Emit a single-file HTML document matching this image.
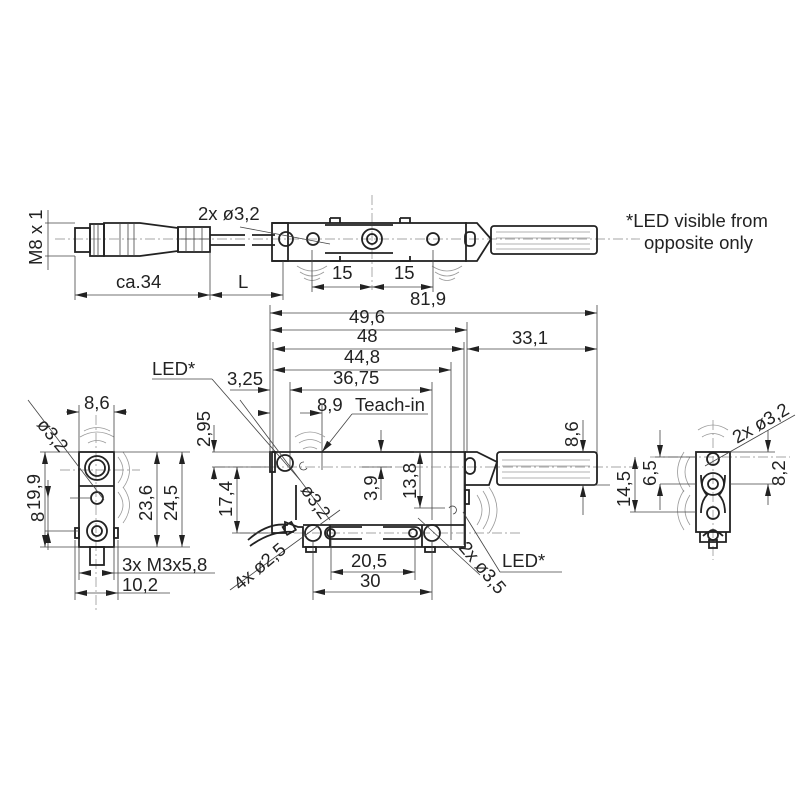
<!DOCTYPE html>
<html><head><meta charset="utf-8"><style>
html,body{margin:0;padding:0;background:#fff}
svg{display:block}
text{font-family:"Liberation Sans",Arial,sans-serif;font-size:18.5px;fill:#222}
.o{stroke:#222;stroke-width:1.8;fill:none}
.t{stroke:#444;stroke-width:0.8;fill:none}
.c{stroke:#888;stroke-width:0.7;fill:none;stroke-dasharray:10 3 2 3}
.w{stroke:#999;stroke-width:0.8;fill:none}
</style></head><body>
<svg width="800" height="800" viewBox="0 0 800 800" xmlns="http://www.w3.org/2000/svg">
<defs>
<marker id="a" viewBox="0 0 12 6" refX="12" refY="3" markerWidth="12" markerHeight="6" orient="auto-start-reverse" markerUnits="userSpaceOnUse"><path d="M0,0L12,3L0,6z" fill="#222"/></marker>
</defs>

<!-- ===== TOP VIEW ===== -->
<line class="c" x1="55" y1="239" x2="640" y2="239"/>
<line class="c" x1="372" y1="195" x2="372" y2="290"/>
<rect class="o" x="75" y="228" width="15" height="24"/>
<rect class="o" x="90" y="224" width="14" height="32"/>
<line class="t" x1="94" y1="224" x2="94" y2="256"/><line class="t" x1="98" y1="224" x2="98" y2="256"/>
<path class="o" d="M104,223 H140 L178,228 V251 L140,256 H104 Z"/>
<line class="t" x1="120" y1="223" x2="120" y2="256"/><line class="t" x1="128" y1="223" x2="128" y2="256"/><line class="t" x1="134" y1="223" x2="134" y2="256"/>
<rect class="o" x="178" y="227" width="32" height="25"/>
<line class="t" x1="186" y1="227" x2="186" y2="252"/><line class="t" x1="194" y1="227" x2="194" y2="252"/><line class="t" x1="202" y1="227" x2="202" y2="252"/>
<line class="t" x1="178" y1="239" x2="210" y2="239"/>
<path class="o" d="M210,235 H245 M252,235 H275 M210,245 H245 M252,245 H275"/>
<rect class="o" x="272" y="223" width="194" height="38"/>
<path class="o" d="M272,223 h16 v38 h-16"/>
<circle class="o" cx="286" cy="239" r="7"/>
<circle class="o" cx="313" cy="239" r="6"/>
<circle class="o" cx="372" cy="239" r="10"/><circle class="o" cx="372" cy="239" r="5"/>
<circle class="o" cx="433" cy="239" r="6"/>
<path class="o" d="M325,225 h68 M325,253 h68 M330,218 h10 v5 M400,218 h10 v5 M330,261 h10 v-5 M400,261 h10 v-5 M330,218 v5 M400,218 v5"/>
<path class="o" d="M465,223 h12 l14,16 l-14,22 h-12"/>
<rect class="o" x="465" y="232" width="10" height="14" rx="4"/>
<rect class="o" x="491" y="226" width="106" height="28" rx="3"/>
<g class="w"><line x1="496" y1="232" x2="590" y2="232"/><line x1="496" y1="238" x2="590" y2="238"/><line x1="496" y1="244" x2="590" y2="244"/><line x1="496" y1="249" x2="590" y2="249"/></g>
<line class="t" x1="240" y1="227" x2="330" y2="244"/>
<text x="198" y="220">2x ø3,2</text>
<g class="w"><path d="M297,266 q15,10 30,0 M300,272 q12,8 24,0 M304,278 q8,5 16,0"/><path d="M432,266 q15,10 30,0 M435,272 q12,8 24,0 M439,278 q8,5 16,0"/></g>
<line class="t" x1="45" y1="223" x2="75" y2="223"/><line class="t" x1="45" y1="256" x2="75" y2="256"/>
<line class="t" x1="48" y1="210" x2="48" y2="270" />
<text transform="translate(42,265) rotate(-90)">M8 x 1</text>
<g class="t"><line x1="75" y1="256" x2="75" y2="300"/><line x1="210" y1="252" x2="210" y2="300"/><line x1="283" y1="261" x2="283" y2="300"/>
<line x1="312" y1="250" x2="312" y2="292"/><line x1="433" y1="250" x2="433" y2="292"/></g>
<line class="t" x1="75" y1="295" x2="210" y2="295" marker-start="url(#a)" marker-end="url(#a)"/>
<line class="t" x1="210" y1="295" x2="283" y2="295" marker-start="url(#a)" marker-end="url(#a)"/>
<text x="116" y="288">ca.34</text><text x="238" y="288">L</text>
<line class="t" x1="312" y1="287" x2="372" y2="287" marker-start="url(#a)" marker-end="url(#a)"/>
<line class="t" x1="372" y1="287" x2="433" y2="287" marker-start="url(#a)" marker-end="url(#a)"/>
<text x="332" y="279">15</text><text x="394" y="279">15</text>
<text x="626" y="227">*LED visible from</text><text x="644" y="249">opposite only</text>

<!-- ===== dimension stack ===== -->
<g class="t">
<line x1="270" y1="305" x2="270" y2="455"/><line x1="597" y1="305" x2="597" y2="465"/>
<line x1="467" y1="322" x2="467" y2="452"/><line x1="464" y1="342" x2="464" y2="545"/>
<line x1="451" y1="362" x2="451" y2="540"/><line x1="432" y1="382" x2="432" y2="520"/>
<line x1="273" y1="342" x2="273" y2="452"/><line x1="290" y1="382" x2="290" y2="470"/>
<line x1="322" y1="405" x2="322" y2="470"/>
</g>
<line class="t" x1="270" y1="313" x2="597" y2="313" marker-start="url(#a)" marker-end="url(#a)"/>
<text x="410" y="305">81,9</text>
<line class="t" x1="270" y1="330" x2="467" y2="330" marker-start="url(#a)" marker-end="url(#a)"/>
<text x="349" y="323">49,6</text>
<line class="t" x1="273" y1="349" x2="464" y2="349" marker-start="url(#a)" marker-end="url(#a)"/>
<line class="t" x1="467" y1="349" x2="597" y2="349" marker-start="url(#a)" marker-end="url(#a)"/>
<text x="357" y="342">48</text><text x="512" y="344">33,1</text>
<line class="t" x1="273" y1="370" x2="451" y2="370" marker-start="url(#a)" marker-end="url(#a)"/>
<text x="344" y="363">44,8</text>
<line class="t" x1="290" y1="390" x2="432" y2="390" marker-start="url(#a)" marker-end="url(#a)"/>
<line class="t" x1="230" y1="390" x2="270" y2="390" marker-end="url(#a)"/>
<text x="333" y="384">36,75</text><text x="227" y="385">3,25</text>
<line class="t" x1="258" y1="413" x2="270" y2="413" marker-end="url(#a)"/>
<line class="t" x1="300" y1="413" x2="322" y2="413" marker-end="url(#a)"/>
<text x="317" y="411">8,9</text><text x="355" y="411">Teach-in</text>
<line class="t" x1="352" y1="414" x2="428" y2="414"/>
<line class="t" x1="352" y1="414" x2="322" y2="452" marker-end="url(#a)"/>
<text x="152" y="375">LED*</text>
<line class="t" x1="152" y1="379" x2="212" y2="379"/>
<line class="t" x1="212" y1="379" x2="300" y2="480"/>

<!-- ===== SIDE VIEW ===== -->
<line class="c" x1="215" y1="467" x2="640" y2="467"/>
<line class="c" x1="240" y1="533" x2="520" y2="533"/>
<path class="o" d="M272,452 H465 V547 H303 V527 H298 L285,522 V533 H272 V452"/>
<rect class="o" x="270" y="452" width="5" height="20"/>
<path class="o" d="M303,525 H465"/>
<line class="o" x1="330" y1="525" x2="330" y2="547"/>
<line class="o" x1="422" y1="525" x2="422" y2="547"/>
<circle class="o" cx="285" cy="463" r="8"/>
<path class="t" d="M304,462 a4,4 0 1 0 3,6"/>
<line class="o" x1="296" y1="485" x2="296" y2="520"/>
<circle class="o" cx="313" cy="533" r="8"/>
<circle class="o" cx="432" cy="533" r="8"/>
<path class="o" d="M331,527 a6,6 0 0 0 0,12 H362 M331,527 H362"/>
<circle class="o" cx="331" cy="533" r="4"/>
<path class="o" d="M415,527 a6,6 0 0 1 0,12 H383 M415,527 H383"/>
<circle class="o" cx="413" cy="533" r="4"/>
<rect class="o" x="306" y="547" width="10" height="5"/><rect class="o" x="425" y="547" width="10" height="5"/>
<path class="o" d="M248,540 q20,-18 40,-15 M250,546 q22,-16 44,-14"/>
<rect class="o" x="284" y="524" width="10" height="9" transform="rotate(-30 289 528)"/>
<path class="o" d="M465,452 h12 l20,10 l-8,23 h-24"/>
<rect class="o" x="465" y="458" width="10" height="16" rx="5"/>
<rect class="o" x="497" y="452" width="100" height="33" rx="3"/>
<g class="w"><line x1="502" y1="460" x2="590" y2="460"/><line x1="502" y1="466" x2="590" y2="466"/><line x1="502" y1="472" x2="590" y2="472"/><line x1="502" y1="478" x2="590" y2="478"/></g>
<rect class="o" x="465" y="490" width="4" height="14"/>
<path class="t" d="M449,508 a4,4 0 1 1 4,6"/>
<g class="w"><path d="M295,437 q15,-10 30,0 M299,443 q11,-7 22,0 M303,449 q7,-4 14,0"/><path d="M477,495 q10,15 0,30 M483,491 q13,19 0,38 M489,487 q16,23 0,46"/></g>
<g class="t"><line x1="212" y1="452" x2="272" y2="452"/><line x1="212" y1="467" x2="270" y2="467"/><line x1="232" y1="533" x2="272" y2="533"/>
<line x1="362" y1="467" x2="392" y2="467"/><line x1="414" y1="452" x2="440" y2="452"/><line x1="414" y1="508" x2="445" y2="508"/>
<line x1="580" y1="485" x2="610" y2="485"/><line x1="313" y1="540" x2="313" y2="600"/><line x1="331" y1="540" x2="331" y2="580"/><line x1="415" y1="540" x2="415" y2="580"/><line x1="432" y1="540" x2="432" y2="600"/></g>
<line class="t" x1="214" y1="425" x2="214" y2="452" marker-end="url(#a)"/>
<line class="t" x1="214" y1="480" x2="214" y2="467" marker-end="url(#a)"/>
<text transform="translate(210,447) rotate(-90)">2,95</text>
<line class="t" x1="237" y1="467" x2="237" y2="533" marker-start="url(#a)" marker-end="url(#a)"/>
<text transform="translate(232,517) rotate(-90)">17,4</text>
<line class="t" x1="381" y1="430" x2="381" y2="452" marker-end="url(#a)"/>
<line class="t" x1="381" y1="500" x2="381" y2="467" marker-end="url(#a)"/>
<text transform="translate(377,501) rotate(-90)">3,9</text>
<line class="t" x1="420" y1="452" x2="420" y2="508" marker-start="url(#a)" marker-end="url(#a)"/>
<text transform="translate(416,499) rotate(-90)">13,8</text>
<line class="t" x1="583" y1="420" x2="583" y2="452" marker-end="url(#a)"/>
<line class="t" x1="583" y1="515" x2="583" y2="485" marker-end="url(#a)"/>
<text transform="translate(578,447) rotate(-90)">8,6</text>
<line class="t" x1="331" y1="572" x2="415" y2="572" marker-start="url(#a)" marker-end="url(#a)"/>
<text x="351" y="567">20,5</text>
<line class="t" x1="313" y1="592" x2="432" y2="592" marker-start="url(#a)" marker-end="url(#a)"/>
<text x="360" y="587">30</text>
<line class="t" x1="240" y1="400" x2="330" y2="520"/>
<text transform="translate(300,490) rotate(55)">ø3,2</text>
<line class="t" x1="230" y1="590" x2="340" y2="510"/>
<text transform="translate(240,591) rotate(-40)">4x ø2,5</text>
<line class="t" x1="418" y1="518" x2="480" y2="575"/>
<text transform="translate(458,548) rotate(50)">2x ø3,5</text>
<line class="t" x1="463" y1="512" x2="500" y2="572"/>
<line class="t" x1="500" y1="572" x2="562" y2="572"/>
<text x="502" y="567">LED*</text>

<!-- ===== LEFT END VIEW ===== -->
<line class="c" x1="60" y1="470" x2="140" y2="470"/>
<line class="c" x1="96" y1="415" x2="96" y2="610"/>
<rect class="o" x="79" y="452" width="35" height="95"/>
<line class="o" x1="79" y1="486" x2="114" y2="486"/>
<circle class="o" cx="97" cy="468" r="12"/><circle class="o" cx="97" cy="468" r="8"/>
<circle class="o" cx="97" cy="498" r="6"/>
<circle class="o" cx="97" cy="531" r="10"/><circle class="o" cx="97" cy="531" r="5"/>
<rect class="o" x="75" y="528" width="4" height="10"/><rect class="o" x="114" y="528" width="4" height="10"/>
<rect class="o" x="90" y="547" width="14" height="18"/>
<g class="w"><path d="M80,437 q17,-10 34,0 M84,431 q13,-7 26,0 M88,443 q9,-5 18,0"/><path d="M118,457 q10,13 0,26 M123,452 q13,18 0,36 M118,492 q10,13 0,26 M123,487 q13,18 0,36"/></g>
<g class="t"><line x1="79" y1="405" x2="79" y2="452"/><line x1="114" y1="405" x2="114" y2="452"/>
<line x1="40" y1="452" x2="79" y2="452"/><line x1="114" y1="452" x2="190" y2="452"/><line x1="40" y1="547" x2="79" y2="547"/><line x1="114" y1="547" x2="190" y2="547"/>
<line x1="45" y1="531" x2="79" y2="531"/><line x1="70" y1="498" x2="90" y2="498"/>
<line x1="75" y1="540" x2="75" y2="600"/><line x1="118" y1="540" x2="118" y2="600"/>
<line x1="79" y1="547" x2="79" y2="580"/><line x1="114" y1="547" x2="114" y2="580"/></g>
<line class="t" x1="66" y1="412" x2="79" y2="412" marker-end="url(#a)"/>
<line class="t" x1="127" y1="412" x2="114" y2="412" marker-end="url(#a)"/>
<text x="84" y="409">8,6</text>
<line class="t" x1="28" y1="400" x2="104" y2="500"/>
<text transform="translate(36,425) rotate(50)">ø3,2</text>
<line class="t" x1="45" y1="452" x2="45" y2="547" marker-start="url(#a)" marker-end="url(#a)"/>
<text transform="translate(40,510) rotate(-90)">19,9</text>
<line class="t" x1="48" y1="498" x2="48" y2="531"/>
<line class="t" x1="48" y1="480" x2="48" y2="498" marker-end="url(#a)"/>
<line class="t" x1="48" y1="550" x2="48" y2="531" marker-end="url(#a)"/>
<text transform="translate(44,522) rotate(-90)">8</text>
<line class="t" x1="157" y1="452" x2="157" y2="547" marker-start="url(#a)" marker-end="url(#a)"/>
<text transform="translate(152,521) rotate(-90)">23,6</text>
<line class="t" x1="182" y1="452" x2="182" y2="547" marker-start="url(#a)" marker-end="url(#a)"/>
<text transform="translate(177,521) rotate(-90)">24,5</text>
<line class="t" x1="79" y1="573" x2="90" y2="573" marker-start="url(#a)"/>
<line class="t" x1="104" y1="573" x2="114" y2="573" marker-end="url(#a)"/>
<line class="t" x1="114" y1="573" x2="215" y2="573"/>
<text x="122" y="571">3x M3x5,8</text>
<line class="t" x1="75" y1="593" x2="118" y2="593" marker-start="url(#a)" marker-end="url(#a)"/>
<line class="t" x1="118" y1="593" x2="170" y2="593"/>
<text x="122" y="591">10,2</text>

<!-- ===== RIGHT END VIEW ===== -->
<line class="c" x1="650" y1="457" x2="790" y2="457"/>
<line class="c" x1="713" y1="420" x2="713" y2="560"/>
<rect class="o" x="696" y="452" width="34" height="80"/>
<circle class="o" cx="713" cy="459" r="6"/>
<circle class="o" cx="713" cy="484" r="11"/><circle class="o" cx="713" cy="484" r="5"/>
<path class="o" d="M701,475 q0,14 6,20 q-6,6 -6,18 M725,475 q0,14 -6,20 q6,6 6,18"/>
<circle class="o" cx="713" cy="513" r="6"/>
<path class="o" d="M700,532 v10 h26 v-10 M703,536 q10,-10 20,0"/>
<circle class="o" cx="713" cy="535" r="5"/>
<rect class="o" x="709" y="540" width="8" height="8"/>
<g class="w"><path d="M698,430 q15,-10 30,0 M702,437 q11,-7 22,0"/><path d="M690,457 q-10,15 0,30 M684,452 q-13,20 0,40 M690,495 q-10,15 0,30 M684,490 q-13,20 0,40"/></g>
<g class="t"><line x1="655" y1="457" x2="696" y2="457"/><line x1="630" y1="512" x2="696" y2="512"/><line x1="660" y1="484" x2="696" y2="484"/>
<line x1="730" y1="452" x2="775" y2="452"/><line x1="730" y1="484" x2="775" y2="484"/></g>
<line class="t" x1="635" y1="457" x2="635" y2="512" marker-start="url(#a)" marker-end="url(#a)"/>
<text transform="translate(630,507) rotate(-90)">14,5</text>
<line class="t" x1="660" y1="430" x2="660" y2="457" marker-end="url(#a)"/>
<line class="t" x1="660" y1="510" x2="660" y2="484" marker-end="url(#a)"/>
<text transform="translate(656,486) rotate(-90)">6,5</text>
<line class="t" x1="768" y1="430" x2="768" y2="452" marker-end="url(#a)"/>
<line class="t" x1="768" y1="505" x2="768" y2="484" marker-end="url(#a)"/>
<text transform="translate(785,486) rotate(-90)">8,2</text>
<line class="t" x1="705" y1="466" x2="795" y2="415"/>
<text transform="translate(737,444) rotate(-30)">2x ø3,2</text>
</svg>
</body></html>
